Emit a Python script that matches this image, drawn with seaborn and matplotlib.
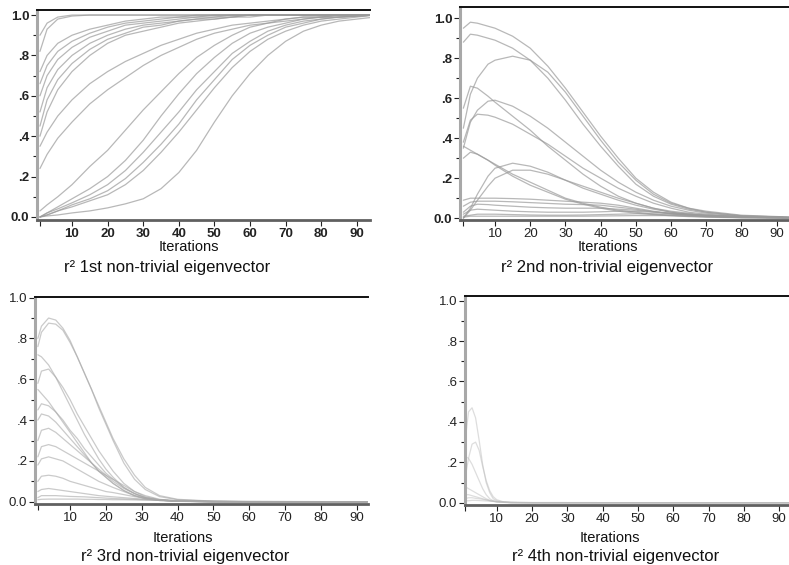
import pandas as pd
import seaborn as sns
from matplotlib import pyplot as plt
from matplotlib.ticker import MultipleLocator

# iteration grids used for each panel
X1 = [1, 3, 6, 10, 15, 20, 25, 30, 35, 40, 45, 50, 55, 60, 65, 70, 75, 80, 85, 95]
X2 = [1, 3, 5, 8, 10, 15, 20, 25, 30, 35, 40, 45, 50, 55, 60, 65, 70, 80, 95]
X3 = [1, 2, 4, 6, 8, 10, 12, 14, 16, 18, 20, 22, 25, 28, 31, 35, 40, 50, 60, 93]
X4 = [1, 2, 3, 4, 5, 6, 7, 8, 9, 10, 12, 14, 20, 93]

# r^2 of the 1st non-trivial eigenvector, one row per run
FIRST = [
    [0.90, 0.96, 0.99, 1.0, 1.0, 1.0, 1.0, 1.0, 1.0, 1.0, 1.0, 1.0, 1.0, 1.0, 1.0, 1.0, 1.0, 1.0, 1.0, 1.0],
    [0.82, 0.93, 0.98, 0.995, 1.0, 1.0, 1.0, 1.0, 1.0, 1.0, 1.0, 1.0, 1.0, 1.0, 1.0, 1.0, 1.0, 1.0, 1.0, 1.0],
    [0.72, 0.80, 0.86, 0.90, 0.93, 0.95, 0.97, 0.98, 0.99, 0.99, 1.0, 1.0, 1.0, 1.0, 1.0, 1.0, 1.0, 1.0, 1.0, 1.0],
    [0.66, 0.75, 0.82, 0.87, 0.91, 0.94, 0.96, 0.97, 0.98, 0.99, 0.99, 1.0, 1.0, 1.0, 1.0, 1.0, 1.0, 1.0, 1.0, 1.0],
    [0.60, 0.70, 0.78, 0.84, 0.89, 0.92, 0.95, 0.96, 0.97, 0.98, 0.99, 0.99, 1.0, 1.0, 1.0, 1.0, 1.0, 1.0, 1.0, 1.0],
    [0.52, 0.64, 0.73, 0.80, 0.86, 0.90, 0.93, 0.95, 0.96, 0.97, 0.98, 0.99, 0.99, 1.0, 1.0, 1.0, 1.0, 1.0, 1.0, 1.0],
    [0.45, 0.58, 0.68, 0.76, 0.83, 0.88, 0.91, 0.94, 0.95, 0.97, 0.98, 0.98, 0.99, 1.0, 1.0, 1.0, 1.0, 1.0, 1.0, 1.0],
    [0.40, 0.52, 0.63, 0.72, 0.80, 0.86, 0.90, 0.92, 0.94, 0.96, 0.97, 0.98, 0.99, 0.99, 1.0, 1.0, 1.0, 1.0, 1.0, 1.0],
    [0.35, 0.42, 0.50, 0.58, 0.66, 0.72, 0.77, 0.81, 0.85, 0.88, 0.91, 0.93, 0.95, 0.96, 0.97, 0.98, 0.99, 0.99, 1.0, 1.0],
    [0.24, 0.31, 0.39, 0.47, 0.56, 0.63, 0.69, 0.75, 0.80, 0.84, 0.88, 0.91, 0.93, 0.95, 0.96, 0.97, 0.98, 0.99, 0.99, 1.0],
    [0.03, 0.06, 0.10, 0.16, 0.25, 0.33, 0.43, 0.53, 0.62, 0.71, 0.79, 0.85, 0.90, 0.94, 0.96, 0.98, 0.99, 0.99, 1.0, 1.0],
    [0.0, 0.02, 0.05, 0.09, 0.14, 0.20, 0.28, 0.38, 0.50, 0.61, 0.71, 0.79, 0.86, 0.91, 0.94, 0.96, 0.98, 0.99, 0.99, 1.0],
    [0.0, 0.02, 0.04, 0.07, 0.11, 0.16, 0.23, 0.32, 0.42, 0.52, 0.63, 0.72, 0.81, 0.87, 0.92, 0.95, 0.97, 0.98, 0.99, 1.0],
    [0.0, 0.01, 0.03, 0.06, 0.09, 0.13, 0.19, 0.27, 0.36, 0.46, 0.58, 0.68, 0.78, 0.85, 0.90, 0.94, 0.96, 0.98, 0.99, 1.0],
    [0.0, 0.01, 0.03, 0.05, 0.08, 0.11, 0.16, 0.23, 0.32, 0.42, 0.53, 0.64, 0.74, 0.82, 0.88, 0.92, 0.95, 0.97, 0.98, 1.0],
    [0.0, 0.005, 0.01, 0.02, 0.03, 0.045, 0.065, 0.09, 0.14, 0.22, 0.33, 0.47, 0.60, 0.71, 0.80, 0.87, 0.92, 0.95, 0.97, 0.99],
]

SECOND = [
    [0.95, 0.98, 0.975, 0.96, 0.95, 0.91, 0.85, 0.76, 0.65, 0.53, 0.41, 0.30, 0.20, 0.13, 0.08, 0.05, 0.035, 0.015, 0.005],
    [0.88, 0.92, 0.915, 0.90, 0.89, 0.85, 0.79, 0.70, 0.59, 0.47, 0.36, 0.26, 0.17, 0.11, 0.07, 0.045, 0.03, 0.012, 0.004],
    [0.45, 0.62, 0.70, 0.77, 0.79, 0.81, 0.79, 0.73, 0.63, 0.51, 0.39, 0.28, 0.19, 0.12, 0.075, 0.05, 0.03, 0.012, 0.004],
    [0.55, 0.66, 0.65, 0.61, 0.58, 0.51, 0.44, 0.36, 0.29, 0.22, 0.16, 0.11, 0.075, 0.05, 0.03, 0.02, 0.012, 0.005, 0.002],
    [0.35, 0.48, 0.54, 0.585, 0.59, 0.56, 0.51, 0.45, 0.38, 0.31, 0.24, 0.18, 0.13, 0.09, 0.06, 0.04, 0.025, 0.01, 0.003],
    [0.38, 0.49, 0.52, 0.515, 0.505, 0.47, 0.42, 0.37, 0.31, 0.25, 0.20, 0.15, 0.11, 0.075, 0.05, 0.03, 0.02, 0.008, 0.002],
    [0.36, 0.34, 0.32, 0.29, 0.27, 0.22, 0.18, 0.14, 0.10, 0.075, 0.055, 0.04, 0.03, 0.02, 0.015, 0.01, 0.007, 0.003, 0.001],
    [0.30, 0.33, 0.32, 0.29, 0.265, 0.21, 0.165, 0.13, 0.095, 0.07, 0.05, 0.035, 0.025, 0.018, 0.012, 0.008, 0.005, 0.002, 0.001],
    [0.0, 0.05, 0.12, 0.21, 0.25, 0.275, 0.26, 0.23, 0.19, 0.15, 0.12, 0.09, 0.065, 0.045, 0.03, 0.02, 0.013, 0.005, 0.002],
    [0.0, 0.04, 0.09, 0.16, 0.20, 0.24, 0.24, 0.22, 0.19, 0.16, 0.13, 0.10, 0.075, 0.05, 0.035, 0.025, 0.015, 0.006, 0.002],
    [0.09, 0.10, 0.10, 0.10, 0.10, 0.098, 0.095, 0.09, 0.085, 0.08, 0.075, 0.065, 0.05, 0.035, 0.022, 0.014, 0.008, 0.003, 0.001],
    [0.06, 0.08, 0.085, 0.085, 0.085, 0.082, 0.078, 0.074, 0.07, 0.068, 0.065, 0.055, 0.045, 0.032, 0.022, 0.015, 0.01, 0.004, 0.001],
    [0.03, 0.06, 0.07, 0.068, 0.065, 0.06, 0.055, 0.052, 0.05, 0.05, 0.05, 0.045, 0.04, 0.032, 0.025, 0.018, 0.012, 0.005, 0.002],
    [0.02, 0.04, 0.045, 0.042, 0.04, 0.035, 0.032, 0.03, 0.03, 0.03, 0.032, 0.035, 0.034, 0.03, 0.025, 0.02, 0.015, 0.006, 0.002],
    [0.01, 0.015, 0.02, 0.02, 0.02, 0.018, 0.016, 0.015, 0.015, 0.016, 0.018, 0.02, 0.022, 0.022, 0.02, 0.018, 0.015, 0.008, 0.003],
    [0.005, 0.01, 0.01, 0.01, 0.01, 0.01, 0.01, 0.01, 0.01, 0.01, 0.011, 0.012, 0.013, 0.013, 0.013, 0.012, 0.011, 0.006, 0.002],
]

THIRD = [
    [0.80, 0.86, 0.90, 0.89, 0.85, 0.79, 0.71, 0.63, 0.55, 0.46, 0.38, 0.30, 0.19, 0.11, 0.06, 0.025, 0.01, 0.002, 0.0, 0.0],
    [0.76, 0.83, 0.875, 0.87, 0.84, 0.78, 0.71, 0.63, 0.55, 0.47, 0.39, 0.31, 0.21, 0.13, 0.07, 0.03, 0.012, 0.003, 0.0, 0.0],
    [0.72, 0.71, 0.67, 0.61, 0.54, 0.47, 0.40, 0.33, 0.27, 0.21, 0.16, 0.12, 0.07, 0.04, 0.02, 0.008, 0.003, 0.0, 0.0, 0.0],
    [0.58, 0.64, 0.65, 0.61, 0.56, 0.50, 0.43, 0.37, 0.31, 0.25, 0.20, 0.15, 0.09, 0.05, 0.025, 0.01, 0.004, 0.0, 0.0, 0.0],
    [0.55, 0.53, 0.49, 0.44, 0.39, 0.34, 0.29, 0.24, 0.19, 0.15, 0.12, 0.09, 0.055, 0.03, 0.015, 0.006, 0.002, 0.0, 0.0, 0.0],
    [0.45, 0.48, 0.47, 0.44, 0.40, 0.35, 0.31, 0.26, 0.22, 0.18, 0.14, 0.11, 0.07, 0.04, 0.02, 0.008, 0.003, 0.0, 0.0, 0.0],
    [0.40, 0.43, 0.42, 0.39, 0.35, 0.31, 0.27, 0.23, 0.19, 0.15, 0.12, 0.09, 0.055, 0.03, 0.015, 0.006, 0.002, 0.0, 0.0, 0.0],
    [0.30, 0.35, 0.36, 0.34, 0.31, 0.28, 0.25, 0.22, 0.19, 0.16, 0.13, 0.10, 0.065, 0.04, 0.02, 0.008, 0.003, 0.0, 0.0, 0.0],
    [0.22, 0.27, 0.28, 0.27, 0.25, 0.23, 0.21, 0.19, 0.17, 0.15, 0.13, 0.11, 0.08, 0.05, 0.03, 0.012, 0.004, 0.001, 0.0, 0.0],
    [0.18, 0.21, 0.22, 0.21, 0.20, 0.18, 0.16, 0.14, 0.12, 0.10, 0.085, 0.07, 0.05, 0.03, 0.018, 0.008, 0.003, 0.0, 0.0, 0.0],
    [0.10, 0.125, 0.13, 0.125, 0.115, 0.10, 0.09, 0.08, 0.07, 0.06, 0.05, 0.045, 0.035, 0.025, 0.016, 0.008, 0.003, 0.0, 0.0, 0.0],
    [0.05, 0.06, 0.065, 0.06, 0.055, 0.05, 0.045, 0.04, 0.035, 0.03, 0.027, 0.024, 0.02, 0.016, 0.012, 0.008, 0.004, 0.001, 0.0, 0.0],
    [0.02, 0.03, 0.03, 0.03, 0.028, 0.026, 0.025, 0.024, 0.022, 0.02, 0.018, 0.016, 0.014, 0.012, 0.01, 0.008, 0.005, 0.002, 0.001, 0.0],
    [0.01, 0.012, 0.013, 0.013, 0.013, 0.013, 0.013, 0.012, 0.012, 0.011, 0.011, 0.01, 0.01, 0.009, 0.008, 0.007, 0.006, 0.004, 0.002, 0.0],
]

FOURTH = [
    [0.30, 0.45, 0.47, 0.42, 0.31, 0.19, 0.10, 0.05, 0.02, 0.01, 0.003, 0.001, 0.0, 0.0],
    [0.12, 0.22, 0.29, 0.30, 0.26, 0.18, 0.11, 0.06, 0.03, 0.015, 0.004, 0.001, 0.0, 0.0],
    [0.23, 0.22, 0.19, 0.15, 0.11, 0.07, 0.04, 0.02, 0.01, 0.005, 0.002, 0.0, 0.0, 0.0],
    [0.08, 0.07, 0.06, 0.05, 0.04, 0.03, 0.02, 0.012, 0.007, 0.004, 0.002, 0.001, 0.0, 0.0],
    [0.04, 0.04, 0.035, 0.03, 0.025, 0.02, 0.015, 0.01, 0.007, 0.005, 0.003, 0.001, 0.0, 0.0],
    [0.02, 0.025, 0.025, 0.022, 0.02, 0.017, 0.014, 0.011, 0.008, 0.006, 0.004, 0.002, 0.001, 0.0],
    [0.01, 0.01, 0.012, 0.012, 0.011, 0.01, 0.009, 0.008, 0.007, 0.006, 0.004, 0.003, 0.001, 0.0],
]

Y_LABELS = ["0.0", ".2", ".4", ".6", ".8", "1.0"]
X_TICKS = [1, 10, 20, 30, 40, 50, 60, 70, 80, 90]
TITLES = ["1st", "2nd", "3rd", "4th"]

W, H = 789, 565


def to_frame(x, curves):
    rows = []
    for i, ys in enumerate(curves):
        for xv, yv in zip(x, ys):
            rows.append((i, xv, yv))
    return pd.DataFrame(rows, columns=["curve", "iteration", "r2"])


def px_axes(fig, left, top, right, bottom):
    return fig.add_axes([left / W, 1 - bottom / H, (right - left) / W, (bottom - top) / H])


def style_axes(ax, xlim, ylim, bold_y, bold_x):
    ax.set_xlim(*xlim)
    ax.set_ylim(*ylim)
    ax.set_xlabel("")
    ax.set_ylabel("")
    ax.set_yticks([0, 0.2, 0.4, 0.6, 0.8, 1.0])
    ax.set_yticklabels(Y_LABELS, fontweight="bold" if bold_y else "normal")
    ax.yaxis.set_minor_locator(MultipleLocator(0.1))
    ax.set_xticks(X_TICKS)
    ax.set_xticklabels([""] + [str(t) for t in X_TICKS[1:]],
                       fontweight="bold" if bold_x else "normal")
    ax.tick_params(which="both", direction="out", left=True, bottom=True,
                   colors="#222222", labelsize=9.5, pad=1.5, width=0.8)
    ax.tick_params(which="major", length=4)
    ax.tick_params(which="minor", length=3)
    ax.spines["right"].set_visible(False)
    ax.spines["top"].set_color("#111111")
    ax.spines["top"].set_linewidth(1.4)
    ax.spines["left"].set_color("#a8a8a8")
    ax.spines["left"].set_linewidth(2.2)
    ax.spines["bottom"].set_color("#606060")
    ax.spines["bottom"].set_linewidth(2.0)


def main():
    sns.set_theme(style="white")
    plt.rcParams["font.family"] = ["Liberation Sans", "DejaVu Sans"]

    fig = plt.figure(figsize=(W / 100, H / 100), dpi=100)

    panels = [
        (X1, FIRST, (37, 10, 370, 220), (0.17, 93.7), (-0.015, 1.025), True, True, "#9a9a9a", 0.7),
        (X2, SECOND, (460, 7, 789, 220), (0.05, 93.5), (-0.009, 1.056), True, False, "#9a9a9a", 0.7),
        (X3, THIRD, (35, 297, 368, 504), (0.2, 93.2), (-0.011, 1.003), False, False, "#a8a8a8", 0.6),
        (X4, FOURTH, (465, 296, 789, 505), (1.1, 92.8), (-0.011, 1.023), False, False, "#bdbdbd", 0.5),
    ]
    label_pos = [(189, 247, 167, 268), (608, 247, 607, 268),
                 (183, 538, 185, 557), (610, 538, 616, 557)]

    for (x, curves, box, xlim, ylim, by, bx, col, alpha), (ix, iy, tx, ty), name in zip(panels, label_pos, TITLES):
        ax = px_axes(fig, *box)
        sns.lineplot(data=to_frame(x, curves), x="iteration", y="r2", units="curve",
                     estimator=None, color=col, alpha=alpha, linewidth=0.9, ax=ax, legend=False)
        style_axes(ax, xlim, ylim, by, bx)
        fig.text(ix / W, 1 - iy / H, "Iterations", ha="center", va="center", fontsize=10.5, color="#111111")
        fig.text(tx / W, 1 - ty / H, "r² " + name + " non-trivial eigenvector",
                 ha="center", va="center", fontsize=12, color="#111111")

    fig.savefig("out.png", dpi=100)


if __name__ == "__main__":
    main()
